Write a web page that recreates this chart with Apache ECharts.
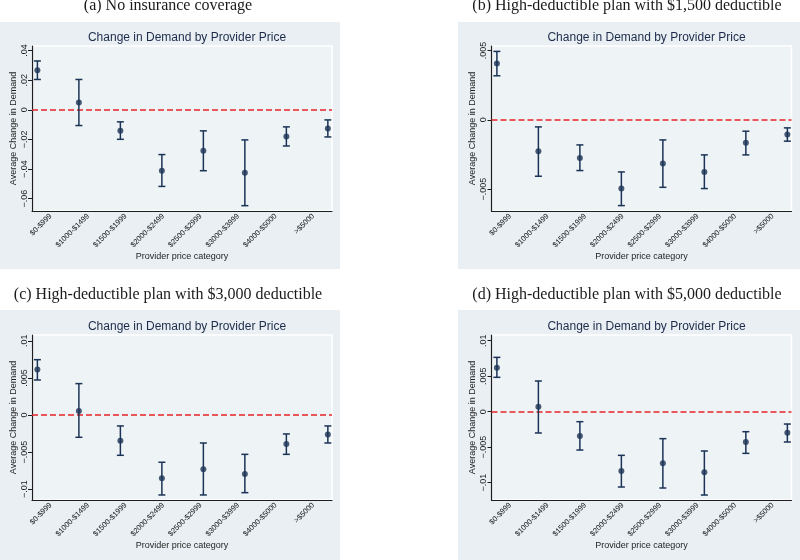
<!DOCTYPE html>
<html>
<head>
<meta charset="utf-8">
<script src="https://cdn.jsdelivr.net/npm/echarts@6/dist/echarts.min.js"></script>
<style>
html,body{margin:0;padding:0;background:#fff;}
#main{width:800px;height:560px;}
</style>
</head>
<body>
<div id="main"></div>
<script>
// ---------- DATA ----------
const categories = ['$0-$999','$1000-$1499','$1500-$1999','$2000-$2499','$2500-$2999','$3000-$3999','$4000-$5000','>$5000'];

const captions = [
  '(a) No insurance coverage',
  '(b) High-deductible plan with $1,500 deductible',
  '(c) High-deductible plan with $3,000 deductible',
  '(d) High-deductible plan with $5,000 deductible'
];

const aEst = [0.0268, 0.0050, -0.0142, -0.0411, -0.0277, -0.0424, -0.0180, -0.0126];
const aHi  = [0.0330, 0.0205, -0.0081, -0.0302, -0.0142, -0.0203, -0.0115, -0.0068];
const aLo  = [0.0205, -0.0106, -0.0199, -0.0517, -0.0411, -0.0647, -0.0244, -0.0183];
const aTicks = [-0.06, -0.04, -0.02, 0, 0.02, 0.04];

const bEst = [0.00407, -0.00227, -0.00275, -0.00496, -0.00316, -0.00376, -0.00166, -0.00106];
const bHi  = [0.00494, -0.00051, -0.00181, -0.00376, -0.00145, -0.00253, -0.00082, -0.00058];
const bLo  = [0.00318, -0.00407, -0.00366, -0.00619, -0.00487, -0.00496, -0.00253, -0.00154];
const bTicks = [-0.005, 0, 0.005];

const cEst = [0.00612, 0.00054, -0.00346, -0.00854, -0.00733, -0.00796, -0.00391, -0.00265];
const cHi  = [0.00746, 0.00423, -0.00148, -0.00638, -0.00378, -0.00531, -0.00256, -0.00148];
const cLo  = [0.00472, -0.00301, -0.00544, -0.01079, -0.01079, -0.01048, -0.00531, -0.00378];
const cTicks = [-0.01, -0.005, 0, 0.005, 0.01];

const dEst = [0.0062, 0.0007, -0.00343, -0.00836, -0.00728, -0.00854, -0.00427, -0.00296];
const dHi  = [0.00765, 0.00432, -0.00141, -0.00615, -0.0038, -0.00554, -0.00282, -0.00174];
const dLo  = [0.00484, -0.003, -0.0054, -0.01061, -0.01075, -0.01174, -0.00587, -0.00427];
const dTicks = [-0.01, -0.005, 0, 0.005, 0.01];

// ---------- LAYOUT ----------
const panels = [
  {est:aEst, hi:aHi, lo:aLo, ticks:aTicks, ymin:-0.0683, ymax:0.0431,
   bg:[0,22,340,247], grid:[32,46,300,165], cap:[168,6]},
  {est:bEst, hi:bHi, lo:bLo, ticks:bTicks, ymin:-0.00658, ymax:0.00533,
   bg:[458,22,342,247], grid:[491.5,46,300,165], cap:[627,6]},
  {est:cEst, hi:cHi, lo:cLo, ticks:cTicks, ymin:-0.01147, ymax:0.01079,
   bg:[0,310,340,250], grid:[32,335,300,165], cap:[168,295]},
  {est:dEst, hi:dHi, lo:dLo, ticks:dTicks, ymin:-0.01244, ymax:0.0108,
   bg:[458,310,342,250], grid:[491.5,335,300,165], cap:[627,295]}
];

const NAVY = '#1b3356';
const AXIS = '#1e1e1e';
const SANS = '"Liberation Sans", Arial, sans-serif';

function stataFmt(v){
  if (Math.abs(v) < 1e-12) return '0';
  let s = String(+Math.abs(v).toFixed(4)).replace(/^0/, '');
  return (v < 0 ? '\u2212' : '') + s;
}

const option = {
  animation:false,
  backgroundColor:'#ffffff',
  grid:[], xAxis:[], yAxis:[], series:[], title:[], graphic:[]
};

panels.forEach((p, k) => {
  const [gl, gt, gw, gh] = p.grid;
  option.graphic.push({
    type:'rect', silent:true, z:-100,
    shape:{x:p.bg[0], y:p.bg[1], width:p.bg[2], height:p.bg[3]},
    style:{fill:'#e9eff3'}
  });
  option.graphic.push({
    type:'text', silent:true, z:10,
    x:p.cap[0], y:p.cap[1],
    style:{text:captions[k], fill:'#1a1a1a', font:'16px "Liberation Serif", "DejaVu Serif", serif',
           align:'center', verticalAlign:'middle'}
  });
  option.title.push({
    text:'Change in Demand by Provider Price',
    left: gl + gw/2, top: gt - 19, textAlign:'center',
    textStyle:{fontFamily:SANS, fontSize:12, fontWeight:'normal', color:'#1c2b4a'}
  });
  option.grid.push({
    left:gl, top:gt, width:gw, height:gh, show:true,
    backgroundColor:'#eef3f6', borderColor:'#ffffff', borderWidth:1.5
  });
  // visible category axis (tick labels)
  option.xAxis.push({
    type:'category', gridIndex:k, data:categories, boundaryGap:true, position:'bottom',
    name:'Provider price category', nameLocation:'middle', nameGap:40,
    nameTextStyle:{fontFamily:SANS, fontSize:9, color:AXIS},
    axisLine:{onZero:false, lineStyle:{color:AXIS, width:1.2}},
    axisTick:{alignWithLabel:true, length:4, lineStyle:{color:AXIS}},
    axisLabel:{rotate:45, fontFamily:SANS, fontSize:7.5, color:'#111', margin:4, interval:0},
    splitLine:{show:false}
  });
  // hidden value axis for the points
  option.xAxis.push({
    type:'value', gridIndex:k, min:0.87, max:8.1, show:false, splitLine:{show:false},
    axisLine:{onZero:false}
  });
  option.yAxis.push({
    type:'value', gridIndex:k, min:p.ymin, max:p.ymax,
    name:'Average Change in Demand', nameLocation:'middle', nameGap:14, nameRotate:90,
    nameTextStyle:{fontFamily:SANS, fontSize:9, color:AXIS},
    axisLine:{show:true, onZero:false, lineStyle:{color:AXIS, width:1.2}},
    axisTick:{show:true, length:4, customValues:p.ticks, lineStyle:{color:AXIS}},
    axisLabel:{rotate:90, customValues:p.ticks, formatter:stataFmt, fontFamily:SANS, fontSize:9, color:AXIS, margin:3},
    splitLine:{show:false}
  });
  const xi = 2*k + 1;
  option.series.push({
    type:'custom', xAxisIndex:xi, yAxisIndex:k,
    data:p.est.map((v, i) => [i+1, p.lo[i], p.hi[i]]),
    encode:{x:0, y:[1,2]},
    renderItem:function(params, api){
      const x = api.value(0);
      const top = api.coord([x, api.value(2)]);
      const bot = api.coord([x, api.value(1)]);
      const w = 3.5;
      const st = {stroke:NAVY, lineWidth:1.5};
      return {type:'group', children:[
        {type:'line', shape:{x1:top[0], y1:top[1], x2:bot[0], y2:bot[1]}, style:st},
        {type:'line', shape:{x1:top[0]-w, y1:top[1], x2:top[0]+w, y2:top[1]}, style:st},
        {type:'line', shape:{x1:bot[0]-w, y1:bot[1], x2:bot[0]+w, y2:bot[1]}, style:st}
      ]};
    },
    z:3
  });
  option.series.push({
    type:'scatter', xAxisIndex:xi, yAxisIndex:k,
    data:p.est.map((v, i) => [i+1, v]),
    symbol:'circle', symbolSize:6, itemStyle:{color:NAVY},
    z:4,
    markLine:{
      silent:true, symbol:'none', label:{show:false},
      lineStyle:{color:'#e8252b', type:[6,3], width:1.5},
      data:[{yAxis:0}], z:2
    }
  });
});

const chart = echarts.init(document.getElementById('main'), null, {renderer:'canvas'});
chart.setOption(option);
</script>
</body>
</html>
